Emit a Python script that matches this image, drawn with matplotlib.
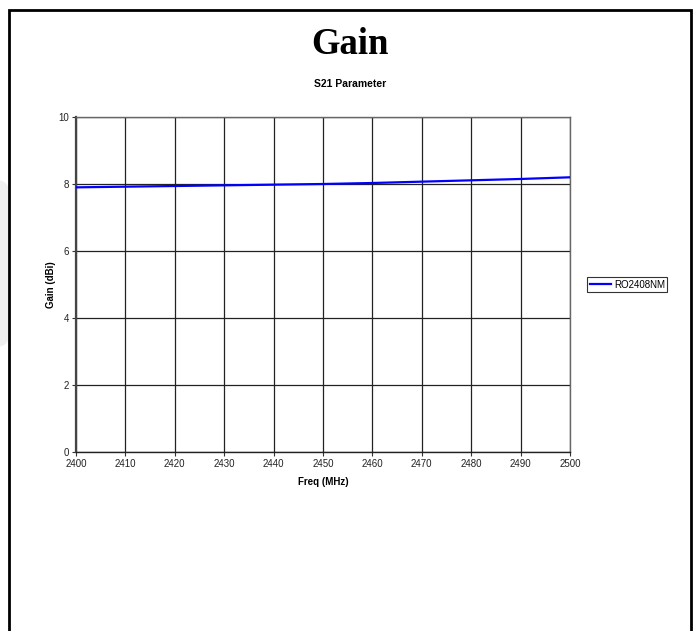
import matplotlib
matplotlib.use("Agg")
import matplotlib.pyplot as plt
from matplotlib.patches import Rectangle, FancyBboxPatch

freq = [2400, 2410, 2420, 2430, 2440, 2450, 2460, 2470, 2480, 2490, 2500]
gain = [7.90, 7.92, 7.94, 7.96, 7.98, 8.00, 8.03, 8.07, 8.11, 8.15, 8.20]
series_name = "RO2408NM"
x_ticks = list(range(2400, 2501, 10))
y_ticks = [0, 2, 4, 6, 8, 10]

plt.rcParams['font.family'] = ['Liberation Sans', 'DejaVu Sans']

fig = plt.figure(figsize=(6.96, 6.31), dpi=100)

# faint grey shape at the left edge, outside the frame
fig.patches.append(FancyBboxPatch((-0.02, 0.45), 0.033, 0.265,
                                  boxstyle="round,pad=0,rounding_size=0.02",
                                  transform=fig.transFigure, facecolor='#efefef',
                                  edgecolor='none', zorder=0))
# outer chart frame
fig.patches.append(Rectangle((9 / 696, -0.05), 682 / 696, 1.05 - 10 / 631,
                             transform=fig.transFigure, fill=False,
                             edgecolor='black', linewidth=2, zorder=1))

ax = fig.add_axes([76 / 696, 1 - 452 / 631, 494 / 696, 335 / 631])
ax.plot(freq, gain, color='#0000ff', linewidth=1.6, label=series_name, zorder=3)

ax.set_xlim(2400, 2500)
ax.set_ylim(0, 10)
ax.set_xticks(x_ticks)
ax.set_yticks(y_ticks)
ax.tick_params(labelsize=7, length=3, width=0.8, color='#333333', pad=2,
               labelcolor='#222222')
ax.grid(True, color='#222222', linewidth=0.9)
ax.set_axisbelow(True)
for side, sp in ax.spines.items():
    sp.set_color('#666666')
    sp.set_linewidth(1.0)
ax.spines['left'].set_linewidth(1.6)
ax.spines['left'].set_color('#444444')
ax.spines['bottom'].set_color('#222222')

ax.set_xlabel("Freq (MHz)", fontsize=7, fontweight='bold', labelpad=6)
ax.set_ylabel("Gain (dBi)", fontsize=7, fontweight='bold', labelpad=2)

fig.text(350 / 696, 1 - 44 / 631, "Gain", family=['Liberation Serif', 'DejaVu Serif'],
         fontsize=26.5, fontweight='bold', ha='center', va='center')
fig.text(350 / 696, 1 - 84 / 631, "S21 Parameter", fontsize=7.5, fontweight='bold',
         ha='center', va='center')

leg = ax.legend(loc='center left', bbox_to_anchor=(1.035, 0.5), fontsize=7,
                frameon=True, fancybox=False, edgecolor='black', handlelength=2.2,
                handletextpad=0.3, borderpad=0.25, borderaxespad=0)
leg.get_frame().set_linewidth(0.8)

fig.savefig("out.png", dpi=100)
